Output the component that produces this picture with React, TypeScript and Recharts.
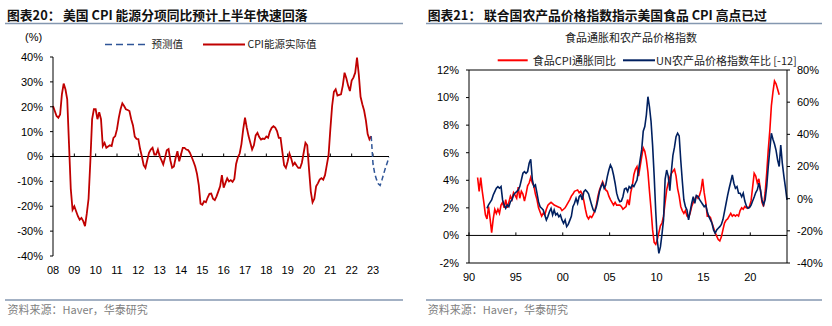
import React from 'react';
import { LineChart, Line, XAxis, YAxis, ReferenceLine } from 'recharts';

// ---------- Left chart: US CPI energy YoY (monthly, Jan 2008 = 0) ----------
const energyYearLabels = ['08', '09', '10', '11', '12', '13', '14', '15', '16', '17', '18', '19', '20', '21', '22', '23'];
const energyActual = [
  20.3, 18.3, 16.3, 15.6, 16.9, 25, 29.3, 27, 23, 5, -13, -21.4,
  -20, -22, -24, -25.4, -24.7, -26, -28, -23, -17, -2, 15, 19,
  19, 15, 17.8, 15, 4.2, 5.5, 3.5, 4.0, 4.5, 4.2, 7.5, 8.2,
  11, 15.5, 19, 21.4, 20.3, 19, 18.7, 18.3, 15, 12.5, 8, 7.1,
  7, 3, 0, -3.5, -4.6, -1.5, 1.5, 2.8, 3.5, 0.8, 0.8, 2.8,
  0.1, -1.5, -3.2, -0.5, 2.5, 3.0, -1.5, -4.5, -4.0, -0.5, 2.1, -1.9,
  0.8, 3.5, 3.5, 2.8, 2.6, 1.5, -0.2, -2, -4, -7, -11.5, -19,
  -19.4, -18, -18.4, -16.5, -15, -14.9, -17, -17.5, -16, -14, -12, -7.5,
  -12.5, -10.6, -8.8, -10, -9.5, -10.2, -9, -3, -0.3, 1.2, 5, 11,
  15.6, 11.6, 8.2, 5.5, 2.8, 4.5, 8.5, 9.5, 7.8, 6.8, 7.2, 7,
  8, 7.5, 10, 11.5, 12.2, 11.6, 10.2, 7.5, 7.5, 2, -3.5, -4.6,
  -2, 1.2, -0.8, -3.5, -2.5, -3.6, -4.6, -4.6, -2.5, 1.5, 5.5, 4.5,
  -5, -14, -18.4, -17, -12, -10.8, -9.3, -8.7, -9.3, -7.5, -3.5, 0.5,
  10.9, 20.3, 26, 27, 24.5, 24.8, 25, 28.5, 33.7, 31.5, 28.5, 26.3,
  30.5, 31.7, 33.7, 39.8, 33, 24, 21, 18.5, 14.5, 9, 6.9, 8.2,
];
const energyForecast = [8.2, -3, -7, -9.3, -11, -11.6, -9.5, -7, -4.6, -2.5, -0.3];
const energyForecastStart = 179;
const energyYTicks = [-40, -30, -20, -10, 0, 10, 20, 30, 40];

// ---------- Right chart: food CPI YoY vs UN food price index YoY (lead 12m) ----------
// months since Jan 1990, every 2 months
const foodStart = 11;
const foodCpi = [
  4.2, 3.2, 4.2, 3.2, 2.4, 1.5, 1.2, 2.1, 1.2, 0.2,
  1.2, 1.9, 1.6, 1.9, 1.6, 2.2, 2.4, 2.0, 2.6, 2.0,
  2.4, 2.85, 2.6, 3.1, 2.9, 2.7, 3.5, 2.7, 3.2, 3.0,
  2.5, 3.0, 3.6, 3.8, 4.2, 3.8, 3.6, 3.0, 2.6, 2.0,
  1.7, 1.4, 1.6, 1.5, 1.9, 2.2, 2.3, 2.4, 2.3, 2.2,
  2.15, 2.1, 2.05, 2.0, 1.8, 1.9, 2.0, 2.2, 2.4, 2.6,
  2.85, 3.0, 3.2, 3.25, 3.3, 3.1, 3.2, 3.0, 2.5, 1.9,
  1.4, 1.2, 1.4, 1.3, 1.5, 1.8, 2.2, 2.85, 3.3, 3.6,
  3.9, 3.6, 3.3, 3.2, 2.85, 2.6, 2.4, 2.2, 2.4, 2.2,
  2.2, 2.2, 2.1, 1.9, 2.0, 2.1, 2.6, 2.2, 3.1, 3.6,
  4.4, 4.8, 5.0, 4.3, 5.0, 5.7, 6.35, 6.1, 5.5, 4.6,
  3.2, 1.9, 0.4, -0.5, -0.65, -0.3, 0.2, 0.7, 0.9, 1.4,
  2.4, 3.3, 3.8, 4.2, 4.5, 4.65, 4.8, 4.3, 3.4, 2.85,
  2.1, 1.8, 1.6, 1.8, 1.4, 1.3, 1.6, 2.1, 2.4, 2.6,
  2.85, 2.7, 2.9, 3.3, 4.1, 3.1, 2.4, 1.4, 1.4, 1.3,
  0.9, 0.55, 0.2, -0.05, -0.3, -0.4, -0.1, 0.4, 0.9, 1.1,
  1.2, 1.4, 1.6, 1.4, 1.5, 1.4, 1.5, 1.4, 1.8, 2.0,
  1.9, 2.1, 2.0, 2.0, 2.1, 2.5, 3.5, 4.5, 4.3, 3.8,
  4.1, 3.3, 2.4, 2.1, 3.1, 4.5, 6.2, 7.6, 9.4, 10.4,
  11.2, 11.0, 10.6, 10.2,
];
const unStart = 23;
const unFoodIndex = [
  -6.0, -3.9, -2.3, -0.8, 2.3, 4.4, 6.5, 7.5, 6.5, 7.5,
  -0.8, -3.9, -6.0, -3.9, -5.0, -1.9, -0.8, 2.3, 3.5, 4.4,
  5.4, 7.5, 11.6, 15.8, 16.8, 15.8, 16.8, 22, 24.5, 12,
  7.5, 8.5, 3.5, -2.0, -5.0, -6.0, -7.0, -10.1, -13.2, -11,
  -8.1, -6.0, -10.1, -7.0, -10.1, -9.1, -11.2, -10.1, -13.2, -15.3,
  -13.2, -17.4, -16, -13.5, -11, -5, -2.9, 0.2, -2.9, 1.2,
  2.3, -0.8, 4.4, 5.4, 4.4, 3.0, -0.5, -4, -7, -8.1,
  -5.0, -0.8, 4.4, 7.5, 9.6, 6.5, 8.5, 13.7, 17.8, 21.0,
  18.9, 14.7, 9.6, 3.4, 0, -1.9, -1.5, 1.2, 6, 6.5,
  4.4, 7.5, 6.5, 8.5, 7.5, 9.6, 11.6, 17.8, 24.1, 30.3,
  42, 44.8, 52, 63.4, 57, 48, 33, 14, -8, -26,
  -34, -30, -22, -13, 12, 17.8, 14, 5, 17, 27,
  32, 38.5, 40.7, 39, 24, 11, -0.8, -5.0, -7.0, -13.2,
  -8, -3, 1.2, -2.9, 2, 1.5, -0.5, -2, -3.5, -5.0,
  -4, -8.1, -11.2, -13.2, -15.3, -19.5, -21.5, -19.5, -18.4, -17.4,
  -16, -13, -8, -3, 2, 6.5, 10.5, 14.7, 9.6, 6.5,
  7.5, 3.4, 3.4, 1.2, 3.4, -1.5, -4.5, -6.0, -5.5, -4,
  -1.5, 1, 3.8, 5.5, 9.6, 5.4, -0.8, -3.9, -0.8, 7.5,
  19.9, 30.5, 40.7, 37, 34, 30, 24, 20, 33.4, 22,
  14, 7, -0.8,
];
const foodYearLabels = ['90', '95', '00', '05', '10', '15', '20'];
const foodLeftTicks = [-2, 0, 2, 4, 6, 8, 10, 12];
const foodRightTicks = [-40, -20, 0, 20, 40, 60, 80];

// ---------- build tables ----------
const energyEnd = energyForecastStart + energyForecast.length - 1;
const energyData: any[] = [];
for (let n = 0; n <= energyEnd; n++) {
  energyData.push({
    n,
    actual: n < energyActual.length ? energyActual[n] : null,
    forecast: n >= energyForecastStart ? energyForecast[n - energyForecastStart] : null,
  });
}
const energyTicks = energyYearLabels.map((_, i) => i * 12);

const foodEnd = Math.max(foodStart + 2 * (foodCpi.length - 1), unStart + 2 * (unFoodIndex.length - 1));
const foodData: any[] = [];
for (let m = foodStart; m <= foodEnd; m += 2) {
  const fi = (m - foodStart) / 2;
  const ui = (m - unStart) / 2;
  foodData.push({
    m,
    food: fi >= 0 && fi < foodCpi.length ? foodCpi[fi] : null,
    un: ui >= 0 && ui < unFoodIndex.length ? unFoodIndex[ui] : null,
  });
}
const foodTicks = foodYearLabels.map((_, i) => i * 60);

const LATIN = "'Liberation Sans', Arial, sans-serif";
const CJK = "'Noto Sans CJK SC', 'Liberation Sans', sans-serif";
const tickStyle = { fontSize: 11, fill: '#000', fontFamily: LATIN };
const RULE = '#8497b0';

export default function App() {
  return (
    <div style={{ position: 'absolute', left: 0, top: 0, width: 832, height: 326, background: '#fff', overflow: 'hidden' }}>
      {/* Left chart */}
      <div style={{ position: 'absolute', left: 0, top: 0 }}>
        <LineChart width={416} height={300} data={energyData} margin={{ top: 57, right: 27, bottom: 0, left: 0 }}>
          <XAxis
            dataKey="n"
            type="number"
            domain={[0, energyEnd]}
            ticks={energyTicks}
            interval={0}
            tickFormatter={(v: number) => energyYearLabels[Math.round(v / 12)]}
            axisLine={false}
            tickLine={false}
            tickSize={0}
            tickMargin={10}
            height={44}
            tick={tickStyle}
          />
          <YAxis
            type="number"
            domain={[-40, 40]}
            ticks={energyYTicks}
            interval={0}
            width={53}
            tickFormatter={(v: number) => `${v}%`}
            axisLine={{ stroke: '#000' }}
            tickLine={{ stroke: '#000' }}
            tickSize={3}
            tickMargin={7}
            tick={tickStyle}
          />
          <ReferenceLine y={0} stroke="#000" strokeWidth={1} />
          {energyTicks.map((t) => (
            <ReferenceLine key={t} segment={[{ x: t, y: 0 }, { x: t, y: 1.2 }]} stroke="#000" />
          ))}
          <Line dataKey="actual" stroke="#c00000" strokeWidth={1.8} dot={false} isAnimationActive={false} />
          <Line dataKey="forecast" stroke="#2f5597" strokeWidth={1.5} strokeDasharray="5 3" dot={false} isAnimationActive={false} />
        </LineChart>
      </div>

      {/* Right chart */}
      <div style={{ position: 'absolute', left: 416, top: 0 }}>
        <LineChart width={416} height={300} data={foodData} margin={{ top: 70, right: 0, bottom: 0, left: 0 }}>
          <XAxis
            dataKey="m"
            type="number"
            domain={[0, 407]}
            ticks={foodTicks}
            interval={0}
            tickFormatter={(v: number) => foodYearLabels[Math.round(v / 60)]}
            axisLine={{ stroke: '#000' }}
            tickLine={false}
            tickSize={0}
            tickMargin={10}
            height={37}
            tick={tickStyle}
          />
          <YAxis
            yAxisId="left"
            type="number"
            domain={[-2, 12]}
            ticks={foodLeftTicks}
            interval={0}
            width={53}
            tickFormatter={(v: number) => `${v}%`}
            axisLine={{ stroke: '#000' }}
            tickLine={{ stroke: '#000' }}
            tickSize={3}
            tickMargin={7}
            tick={tickStyle}
          />
          <YAxis
            yAxisId="right"
            orientation="right"
            type="number"
            domain={[-40, 80]}
            ticks={foodRightTicks}
            interval={0}
            width={45}
            tickFormatter={(v: number) => `${v}%`}
            axisLine={{ stroke: '#000' }}
            tickLine={{ stroke: '#000' }}
            tickSize={3}
            tickMargin={7}
            tick={tickStyle}
          />
          <ReferenceLine yAxisId="left" y={12} stroke="#000" />
          <ReferenceLine yAxisId="left" y={0} stroke="#000" />
          {foodTicks.map((t) => (
            <ReferenceLine key={t} yAxisId="left" segment={[{ x: t, y: 0 }, { x: t, y: 0.22 }]} stroke="#000" />
          ))}
          <Line yAxisId="left" dataKey="food" stroke="#ff0000" strokeWidth={1.6} dot={false} isAnimationActive={false} />
          <Line yAxisId="right" dataKey="un" stroke="#002060" strokeWidth={1.6} dot={false} isAnimationActive={false} />
        </LineChart>
      </div>

      {/* Texts, legends, rules */}
      <svg width={832} height={326} style={{ position: 'absolute', left: 0, top: 0, pointerEvents: 'none' }}>
        <g fontFamily={CJK} fontWeight={700} fontSize={12.8} fill="#111">
          <text x={7} y={20}>图表20：</text>
          <text x={63} y={20}>美国 CPI 能源分项同比预计上半年快速回落</text>
          <text x={427.7} y={20}>图表21：</text>
          <text x={484} y={20}>联合国农产品价格指数指示美国食品 CPI 高点已过</text>
        </g>
        <line x1={5} x2={403} y1={23.5} y2={23.5} stroke={RULE} strokeWidth={1.5} />
        <line x1={426} x2={822} y1={23.5} y2={23.5} stroke={RULE} strokeWidth={1.5} />

        <text x={25} y={40.5} fontFamily={LATIN} fontSize={11} fill="#000">(%)</text>

        <line x1={105} x2={145} y1={44.5} y2={44.5} stroke="#2f5597" strokeWidth={1.5} strokeDasharray="7 4" />
        <text x={151.5} y={48.3} fontFamily={CJK} fontSize={10.5} fill="#222">预测值</text>
        <line x1={203} x2={245} y1={44.5} y2={44.5} stroke="#c00000" strokeWidth={2} />
        <text x={247.5} y={48.3} fontFamily={CJK} fontSize={10.5} fill="#222">CPI能源实际值</text>

        <text x={631} y={41.7} textAnchor="middle" fontFamily={CJK} fontSize={11} fill="#222">食品通胀和农产品价格指数</text>
        <line x1={497.7} x2={527.7} y1={60.3} y2={60.3} stroke="#ff0000" strokeWidth={2} />
        <text x={532.7} y={64.5} fontFamily={CJK} fontSize={11} fill="#222">食品CPI通胀同比</text>
        <line x1={623} x2={655} y1={60.3} y2={60.3} stroke="#002060" strokeWidth={2} />
        <text x={656} y={64.5} fontFamily={CJK} fontSize={11} fill="#222">UN农产品价格指数年比 [-12]</text>

        <line x1={5} x2={403} y1={300} y2={300} stroke={RULE} strokeWidth={1.5} />
        <line x1={426} x2={822} y1={300} y2={300} stroke={RULE} strokeWidth={1.5} />
        <text x={7.5} y={313.5} fontFamily={CJK} fontSize={11} fill="#808080">资料来源：Haver，华泰研究</text>
        <text x={427.7} y={313.5} fontFamily={CJK} fontSize={11} fill="#808080">资料来源：Haver，华泰研究</text>
      </svg>
    </div>
  );
}
